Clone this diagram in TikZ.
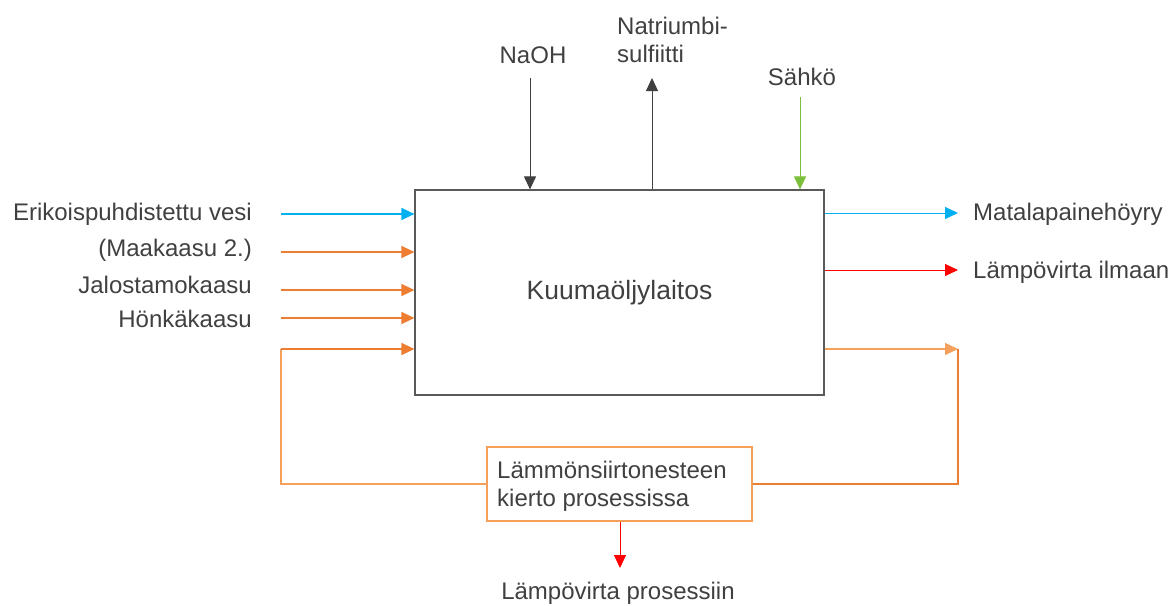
\documentclass[tikz,border=0pt]{standalone}
\usepackage{fontspec}
\setmainfont{Liberation Sans}
\usetikzlibrary{arrows.meta}
\definecolor{txt}{HTML}{404040}
\definecolor{blu}{HTML}{00B0F0}
\definecolor{ora}{HTML}{ED7D31}
\definecolor{oral}{HTML}{F4A05A}
\definecolor{grn}{HTML}{7CBF3A}
\definecolor{gry}{HTML}{404040}
\definecolor{boxc}{HTML}{595959}
\tikzset{
  lbl/.style={text=txt,font=\fontsize{24}{28}\selectfont,inner sep=0pt},
  arr/.style={line width=1.3pt,-{Triangle[length=13pt,width=12pt]}},
  flow/.style={line width=1.3pt},
}
\begin{document}
\begin{tikzpicture}[x=1pt,y=-1pt]
\useasboundingbox (0,0) rectangle (1169,605);
% main box
\node[draw=boxc,line width=1.2pt,minimum width=409pt,minimum height=205pt,inner sep=0pt,
      text=txt,font=\fontsize{26.5}{30}\selectfont] (main) at (619.5,292.5) {Kuumaöljylaitos};
% loop box
\node[draw=oral,line width=1.2pt,fill=white,minimum width=265pt,minimum height=74pt,inner sep=0pt] (loop) at (619.5,484) {};
\node[lbl,anchor=north west,align=left] (looptxt) at (497,461) {Lämmönsiirtonesteen\\kierto prosessissa};
% left labels
\node[lbl,anchor=east] (l1) at (252,214) {Erikoispuhdistettu vesi};
\node[lbl,anchor=east] (l2) at (252,250) {(Maakaasu 2.)};
\node[lbl,anchor=east] (l3) at (252,285) {Jalostamokaasu};
\node[lbl,anchor=east] (l4) at (252,319) {Hönkäkaasu};
% right labels
\node[lbl,anchor=west] (r1) at (973,214) {Matalapainehöyry};
\node[lbl,anchor=west] (r2) at (973,272) {Lämpövirta ilmaan};
% top labels
\node[lbl] (naoh) at (533,55) {NaOH};
\node[lbl,anchor=north west,align=left] (nabs) at (617,17) {Natriumbi-\\sulfiitti};
\node[lbl] (sahko) at (802,77) {Sähkö};
% bottom label
\node[lbl] (lprs) at (618,593) {Lämpövirta prosessiin};
% coordinates for free ends
\coordinate (a1) at (281,214);
\coordinate (a2) at (281,252);
\coordinate (a3) at (281,290);
\coordinate (a4) at (281,318);
\coordinate (a5) at (281,349);
\coordinate (b1) at (958,213);
\coordinate (b2) at (958,270);
\coordinate (b3) at (958,349);
\coordinate (t1) at (530,78);
\coordinate (t2) at (652,78);
\coordinate (t3) at (800,97);
\coordinate (lb) at (281,484);
\coordinate (rb) at (958,484);
\coordinate (dn) at (620,568);
% left inputs
\draw[arr,blu] (a1) -- (main.west |- a1);
\draw[arr,ora] (a2) -- (main.west |- a2);
\draw[arr,ora] (a3) -- (main.west |- a3);
\draw[arr,ora] (a4) -- (main.west |- a4);
% loop
\draw[flow,oral] (loop.west |- lb) -- (lb) -- (a5);
\draw[arr,ora] (a5) -- (main.west |- a5);
\draw[arr,oral] (main.east |- b3) -- (b3);
\draw[flow,ora] (b3) -- (rb) -- (loop.east |- rb);
% right outputs
\draw[arr,blu,line width=1pt] (main.east |- b1) -- (b1);
\draw[arr,red,line width=1pt] (main.east |- b2) -- (b2);
% top
\draw[arr,gry,line width=1pt] (t1) -- (main.north -| t1);
\draw[arr,gry,line width=1pt] (main.north -| t2) -- (t2);
\draw[arr,grn,line width=1pt] (t3) -- (main.north -| t3);
% bottom
\draw[arr,red,line width=1pt] (loop.south -| dn) -- (dn);
\end{tikzpicture}
\end{document}
